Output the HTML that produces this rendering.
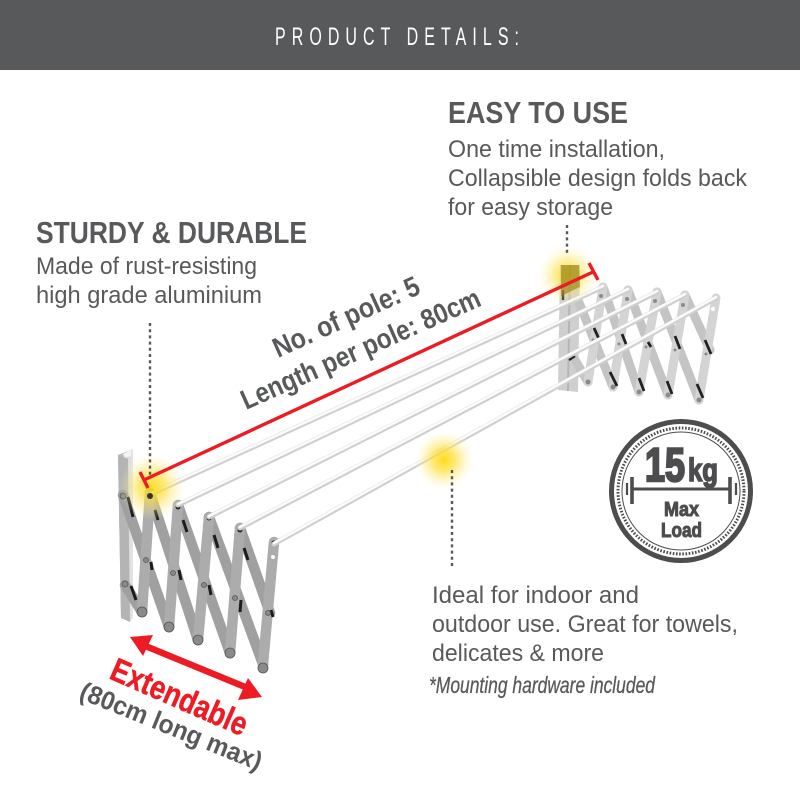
<!DOCTYPE html>
<html><head><meta charset="utf-8"><style>
html,body{margin:0;padding:0;background:#fff;width:800px;height:800px;overflow:hidden}
svg{display:block}
text{font-family:"Liberation Sans",sans-serif;fill:#58595b}
.b{font-weight:bold}
.k{fill:#4d4d4f;stroke:#4d4d4f}
</style></head><body>
<svg width="800" height="800" viewBox="0 0 800 800" xmlns="http://www.w3.org/2000/svg">
<defs>
<radialGradient id="g"><stop offset="0" stop-color="#fdd800" stop-opacity="1"/><stop offset=".4" stop-color="#fde040" stop-opacity=".8"/><stop offset="1" stop-color="#fff3b0" stop-opacity="0"/></radialGradient>
<linearGradient id="w" x1="0" x2="1" y1="0" y2="0"><stop offset="0" stop-color="#b5b5b5"/><stop offset=".6" stop-color="#c4c4c4"/><stop offset=".65" stop-color="#dcdcdc"/><stop offset="1" stop-color="#e4e4e4"/></linearGradient>
</defs>
<rect x="0" y="0" width="800" height="70" fill="#58595b"/>
<text transform="translate(275 45) scale(.64 1)" font-size="25" letter-spacing="9.47" style="fill:#fff">PRODUCT DETAILS:</text>

<!-- right scissor -->
<polygon points="560,265 580,265 578,392 558,390" fill="#cfcfcf"/>
<line x1="570" y1="265" x2="568" y2="391" stroke="#b5b5b5" stroke-width="2"/>
<g stroke="#c4c4c4" stroke-width="9" stroke-linecap="round" fill="none">
<path d="M578 300L613 387M603 287L639 392M628 290L668 395M657 292L699 400M685 295L710 350M575 360L588 382"/>
<path stroke="#d4d4d4" d="M603 287L588 382M628 290L613 387M657 292L639 392M685 295L668 395M716 298L699 400"/>
</g>
<g stroke="#222" stroke-width="2.8" fill="none">
<path d="M594 328L599 339M622 334L626 344M648 342L651 347M675 336L680 349M705 340L711 354M610 372L617 386M639 378L644 391M667 381L672 394M697 384L703 398"/>
</g>
<g fill="#8a8a8a"><circle cx="601" cy="296" r="2"/><circle cx="627" cy="299" r="2"/><circle cx="655" cy="301" r="2"/><circle cx="683" cy="305" r="2"/><circle cx="713" cy="309" r="2" fill="#fff"/><circle cx="588" cy="382" r="2.5"/><circle cx="613" cy="387" r="2.5"/><circle cx="639" cy="392" r="2.5"/><circle cx="668" cy="395" r="2.5"/><circle cx="699" cy="400" r="2.5"/><circle cx="593" cy="340" r="1.5"/><circle cx="619" cy="344" r="1.5"/><circle cx="646" cy="347" r="1.5"/><circle cx="675" cy="350" r="1.5"/><circle cx="706" cy="354" r="1.5"/></g>
<path d="M563 290L563 300M575 356L569 360" stroke="#222" stroke-width="2.4"/>

<!-- left scissor -->
<polygon points="118,455 133,449 133,618 130,622 121,618" fill="url(#w)"/>
<polygon points="118,455 128,459 130,622 121,618" fill="#b4b4b4"/>
<polygon points="123,454 131,450 131,456 125,458" fill="#f3f3f3"/>
<g stroke="#a0a0a0" stroke-width="10.5" stroke-linecap="round" fill="none">
<path d="M123 495L169 627M150 493L198 640M178 505L230 653M209 517L263 664M240 528L270 613M125 585L142 612"/>
<path stroke="#acacac" stroke-width="10.5" d="M150 493L142 612M178 505L169 627M209 517L198 640M240 528L230 653M274 542L263 664"/>
</g>
<g stroke="#1c1c1c" stroke-width="3" fill="none">
<path d="M128 497L133 517M155 510L158 520M183 520L187 532M214 535L218 548M244 548L248 560M151 562L152 570M179 570L181 580M209 585L211 595M241 600L240 612M131 586L136 600M271 610L273 617"/>
</g>
<g fill="#8a8a8a" stroke="#555" stroke-width=".8"><circle cx="123" cy="496" r="3"/><circle cx="125" cy="584" r="3"/><circle cx="146" cy="560" r="2.5"/><circle cx="173" cy="573" r="2.5"/><circle cx="204" cy="585" r="2.5"/><circle cx="235" cy="598" r="2.5"/><circle cx="268" cy="613" r="2.5"/><circle cx="142" cy="612" r="5"/><circle cx="169" cy="627" r="5"/><circle cx="198" cy="640" r="5"/><circle cx="230" cy="653" r="5"/><circle cx="263" cy="668" r="5"/></g>
<g fill="#222"><circle cx="150" cy="496" r="2.5"/><circle cx="178" cy="507" r="2.5"/><circle cx="209" cy="518" r="2.5"/><circle cx="240" cy="530" r="2.5"/><circle cx="274" cy="543" r="2.5"/></g>
<circle cx="273" cy="557" r="2" fill="#fff"/>

<!-- poles -->
<g fill="none" stroke-linecap="round">
<g stroke="#cfcfcf" stroke-width="5"><path d="M153 493L603 287M178 505L628 290M209 517L657 292M240 528L685 295M274 544L716 298"/></g>
<g stroke="#fbfbfb" stroke-width="2.6"><path d="M153 492L603 286M178 504L628 289M209 516L657 291M240 527L685 294M274 543L716 297"/></g>
</g>

<!-- glows -->
<circle cx="152" cy="487" r="33" fill="url(#g)" opacity=".85"/>
<circle cx="568" cy="275" r="30" fill="url(#g)" opacity=".75"/>
<circle cx="444" cy="460" r="29" fill="url(#g)" opacity=".9"/>
<path d="M561 265h18l1 22-19 9z" fill="#8d7b14" opacity=".6"/>
<circle cx="150" cy="496" r="3" fill="#333"/>

<!-- dotted -->
<g stroke="#58595b" stroke-width="2.4" stroke-dasharray="3 3.2" fill="none">
<path d="M150 323V478M567 225V254M452 470V568"/>
</g>

<!-- red dimension -->
<g stroke="#ed1c24" stroke-width="3.4" fill="none">
<path d="M144 480L593 272M140 472L148 488M589 263L598 280"/>
</g>

<!-- text -->
<text class="b" x="448" y="123" font-size="31" textLength="180" lengthAdjust="spacingAndGlyphs">EASY TO USE</text>
<text x="448" y="157" font-size="24" textLength="217" lengthAdjust="spacingAndGlyphs">One time installation,</text>
<text x="448" y="186" font-size="24" textLength="299" lengthAdjust="spacingAndGlyphs">Collapsible design folds back</text>
<text x="448" y="215" font-size="24" textLength="165" lengthAdjust="spacingAndGlyphs">for easy storage</text>
<text class="b" x="36" y="243" font-size="31" textLength="271" lengthAdjust="spacingAndGlyphs">STURDY &amp; DURABLE</text>
<text x="36" y="274" font-size="24" textLength="221" lengthAdjust="spacingAndGlyphs">Made of rust-resisting</text>
<text x="36" y="303" font-size="24" textLength="226" lengthAdjust="spacingAndGlyphs">high grade aluminium</text>
<text class="b" transform="translate(278 358) rotate(-24.3)" font-size="28" textLength="158" lengthAdjust="spacingAndGlyphs">No. of pole: 5</text>
<text class="b" transform="translate(246 410) rotate(-23.9)" font-size="28" textLength="259" lengthAdjust="spacingAndGlyphs">Length per pole: 80cm</text>
<text x="432" y="603" font-size="24" textLength="207" lengthAdjust="spacingAndGlyphs">Ideal for indoor and</text>
<text x="432" y="632" font-size="24" textLength="306" lengthAdjust="spacingAndGlyphs">outdoor use. Great for towels,</text>
<text x="432" y="661" font-size="24" textLength="172" lengthAdjust="spacingAndGlyphs">delicates &amp; more</text>
<text x="429" y="693" font-size="23" font-style="italic" textLength="226" lengthAdjust="spacingAndGlyphs" style="stroke:#58595b;stroke-width:.3">*Mounting hardware included</text>

<!-- extend arrow -->
<path d="M143 645L250 689" stroke="#ed1c24" stroke-width="6.5" fill="none"/>
<polygon points="130,637 153,635 143,656" fill="#ed1c24"/>
<polygon points="262,697 238,700 248,678" fill="#ed1c24"/>
<text class="b" transform="translate(108 678) rotate(23.6)" font-size="33" textLength="146" lengthAdjust="spacingAndGlyphs" style="fill:#ed1c24;stroke:#ed1c24;stroke-width:.5">Extendable</text>
<text class="b" transform="translate(78 698) rotate(22)" font-size="26" textLength="194" lengthAdjust="spacingAndGlyphs">(80cm long max)</text>

<!-- badge -->
<circle cx="681" cy="491" r="69.5" fill="#fff" stroke="#4d4d4f" stroke-width="5"/>
<circle cx="681" cy="491" r="63" fill="none" stroke="#4d4d4f" stroke-width="3" stroke-dasharray="1.6 1.6"/>
<circle cx="681" cy="491" r="59" fill="none" stroke="#4d4d4f" stroke-width="1"/>
<text class="b k" x="645" y="481" font-size="47" textLength="40" lengthAdjust="spacingAndGlyphs" style="stroke-width:2.4">15</text>
<text class="b k" x="688" y="481" font-size="32" textLength="30" lengthAdjust="spacingAndGlyphs" style="stroke-width:1.6">kg</text>
<g stroke="#4d4d4f" fill="none">
<path d="M633 489H730" stroke-width="3"/>
<path d="M632 477V504M730 477V504" stroke-width="3.6"/>
<path d="M627 483V495M736 483V495" stroke-width="2.2"/>
</g>
<text class="b k" x="664" y="516" font-size="20" textLength="35" lengthAdjust="spacingAndGlyphs" style="stroke-width:1">Max</text>
<text class="b k" x="661" y="537" font-size="20" textLength="41" lengthAdjust="spacingAndGlyphs" style="stroke-width:1">Load</text>
</svg>
</body></html>
